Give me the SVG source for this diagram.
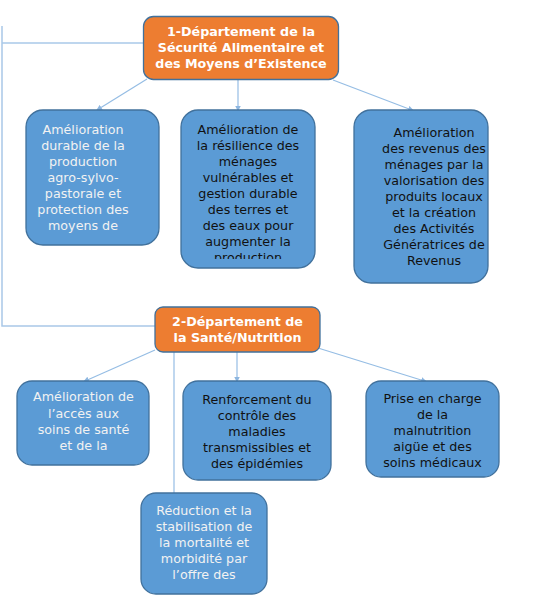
<svg xmlns="http://www.w3.org/2000/svg" width="543" height="606" viewBox="0 0 543 606">
<style>
.box{fill:#5b9bd5;stroke:#41719c;stroke-width:1.3}
.dept{fill:#ed7d31;stroke:#41719c;stroke-width:1.3}
.t{font-family:"DejaVu Sans",Verdana,sans-serif;font-size:12.7px;text-anchor:middle}
.dk{fill:#111111}
.lt{fill:#f2f2f2}
.h{font-weight:bold;fill:#ffffff}
.c{fill:none;stroke:#95bde4;stroke-width:1.2}
.f{fill:none;stroke:#a9c8e8;stroke-width:1.5}
</style>
<defs>
<marker id="ah" viewBox="0 0 6 6" refX="5" refY="3" markerWidth="6" markerHeight="6" orient="auto" markerUnits="userSpaceOnUse">
<path d="M0,0 L6,3 L0,6 Z" fill="#8db6e0"/>
</marker>
<clipPath id="clipB"><rect x="181" y="110" width="134" height="149"/></clipPath>
</defs>
<rect width="543" height="606" fill="#ffffff"/>
<g id="connectors">
<path class="f" d="M2,26 V326 H155"/>
<path class="f" d="M2,43 H143"/>
<line class="c" x1="147" y1="79" x2="97" y2="110" marker-end="url(#ah)"/>
<line class="c" x1="238" y1="80" x2="238" y2="110.5" marker-end="url(#ah)"/>
<line class="c" x1="333" y1="80" x2="413" y2="110.5" marker-end="url(#ah)"/>
<line class="c" x1="155" y1="350" x2="84" y2="381.5" marker-end="url(#ah)"/>
<line class="c" x1="174" y1="352" x2="174" y2="493"/>
<line class="c" x1="237" y1="352" x2="237" y2="381.5" marker-end="url(#ah)"/>
<line class="c" x1="318" y1="348" x2="426" y2="381.5" marker-end="url(#ah)"/>
</g>
<g id="dept1">
<rect class="dept" x="143.5" y="16.5" width="195" height="63" rx="10"/>
<text class="t h"><tspan x="241" y="36">1-Département de la</tspan><tspan x="241" y="52">Sécurité Alimentaire et</tspan><tspan x="241" y="68">des Moyens d’Existence</tspan></text>
</g>
<g id="nodeA">
<rect class="box" x="26" y="110" width="133" height="135" rx="17"/>
<text class="t lt"><tspan x="83" y="133.5">Amélioration</tspan><tspan x="83" y="149.5">durable de la</tspan><tspan x="83" y="165.5">production</tspan><tspan x="83" y="181.5">agro-sylvo-</tspan><tspan x="83" y="197.5">pastorale et</tspan><tspan x="83" y="213.5">protection des</tspan><tspan x="83" y="229.5">moyens de</tspan></text>
</g>
<g id="nodeB">
<rect class="box" x="181" y="110" width="134" height="158" rx="17"/>
<text class="t dk" clip-path="url(#clipB)"><tspan x="248" y="133.5">Amélioration de</tspan><tspan x="248" y="149.5">la résilience des</tspan><tspan x="248" y="165.5">ménages</tspan><tspan x="248" y="181.5">vulnérables et</tspan><tspan x="248" y="197.5">gestion durable</tspan><tspan x="248" y="213.5">des terres et</tspan><tspan x="248" y="229.5">des eaux pour</tspan><tspan x="248" y="245.5">augmenter la</tspan><tspan x="248" y="261.5">production</tspan></text>
</g>
<g id="nodeC">
<rect class="box" x="354" y="110" width="134" height="173" rx="17"/>
<text class="t dk"><tspan x="434" y="137">Amélioration</tspan><tspan x="434" y="153">des revenus des</tspan><tspan x="434" y="169">ménages par la</tspan><tspan x="434" y="185">valorisation des</tspan><tspan x="434" y="201">produits locaux</tspan><tspan x="434" y="217">et la création</tspan><tspan x="434" y="233">des Activités</tspan><tspan x="434" y="249">Génératrices de</tspan><tspan x="434" y="265">Revenus</tspan></text>
</g>
<g id="dept2">
<rect class="dept" x="155" y="307" width="165" height="45" rx="8"/>
<text class="t h"><tspan x="237.5" y="326">2-Département de</tspan><tspan x="237.5" y="342">la Santé/Nutrition</tspan></text>
</g>
<g id="nodeD">
<rect class="box" x="17" y="381" width="132" height="84" rx="15"/>
<text class="t lt"><tspan x="83.5" y="401">Amélioration de</tspan><tspan x="83.5" y="417.5">l’accès aux</tspan><tspan x="83.5" y="433.5">soins de santé</tspan><tspan x="83.5" y="449.5">et de la</tspan></text>
</g>
<g id="nodeE">
<rect class="box" x="183" y="381" width="148" height="99" rx="15"/>
<text class="t dk"><tspan x="257" y="403.5">Renforcement du</tspan><tspan x="257" y="419.5">contrôle des</tspan><tspan x="257" y="435.5">maladies</tspan><tspan x="257" y="451.5">transmissibles et</tspan><tspan x="257" y="467.5">des épidémies</tspan></text>
</g>
<g id="nodeF">
<rect class="box" x="366" y="381" width="133" height="96" rx="15"/>
<text class="t dk"><tspan x="432.5" y="402.5">Prise en charge</tspan><tspan x="432.5" y="418.5">de la</tspan><tspan x="432.5" y="434.5">malnutrition</tspan><tspan x="432.5" y="450.5">aigüe et des</tspan><tspan x="432.5" y="466.5">soins médicaux</tspan></text>
</g>
<g id="nodeG">
<rect class="box" x="141" y="493" width="126" height="101" rx="15"/>
<text class="t lt"><tspan x="204" y="514.5">Réduction et la</tspan><tspan x="204" y="530.5">stabilisation de</tspan><tspan x="204" y="546.5">la mortalité et</tspan><tspan x="204" y="562.5">morbidité par</tspan><tspan x="204" y="578.5">l’offre des</tspan></text>
</g>
</svg>
